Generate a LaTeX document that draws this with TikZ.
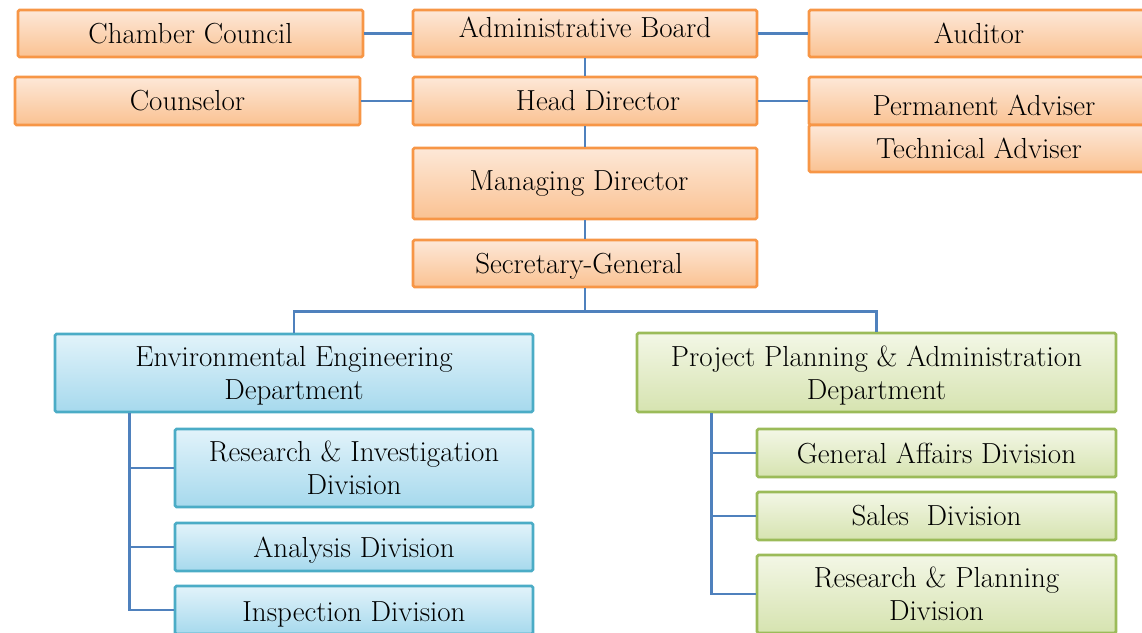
\documentclass[tikz,border=0pt]{standalone}
\usetikzlibrary{calc}
\definecolor{obord}{HTML}{F79646}
\definecolor{otop}{HTML}{FDE8D8}
\definecolor{obot}{HTML}{FAC292}
\definecolor{bbord}{HTML}{4BACC6}
\definecolor{btop}{HTML}{E2F3FA}
\definecolor{bbot}{HTML}{A6D9ED}
\definecolor{gbord}{HTML}{9BBB59}
\definecolor{gtop}{HTML}{F3F7E6}
\definecolor{gbot}{HTML}{D6E3B0}
\definecolor{conn}{HTML}{4F81BD}
% strut to push text down (height) or up (depth)
\newcommand\pushdn[1]{\rule{0pt}{#1}}
\newcommand\pushup[1]{\rule[-#1]{0pt}{#1}}
\tikzset{
  box/.style={rectangle, rounded corners=1.5pt, line width=2.8pt, align=center,
    inner sep=0pt, font=\fontsize{29}{33}\selectfont, text=black, shading=axis, shading angle=0},
  obox/.style={box, draw=obord, top color=otop, bottom color=obot},
  bbox/.style={box, draw=bbord, top color=btop, bottom color=bbot},
  gbox/.style={box, draw=gbord, top color=gtop, bottom color=gbot},
  link/.style={draw=conn, line width=2.8pt}
}
\begin{document}
\begin{tikzpicture}[x=1pt,y=-1pt]
\useasboundingbox (0,0) rectangle (1142,632);
\clip (0,0) rectangle (1142,632);
% top rows
\node[obox, minimum width=345pt, minimum height=47pt] (cc) at (190.5,33.5) {Chamber Council};
\node[obox, minimum width=344pt, minimum height=47pt] (ab) at (585,33.5) {Administrative Board\pushup{12pt}};
\node[obox, minimum width=340pt, minimum height=47pt] (au) at (979,33.5) {Auditor};
\node[obox, minimum width=345pt, minimum height=48pt] (co) at (187.5,101) {Counselor};
\node[obox, minimum width=344pt, minimum height=48pt] (hd) at (585,101) {\hspace*{26pt}Head Director};
\node[obox, minimum width=340pt, minimum height=48pt] (pa) at (979,101) {\pushdn{30pt}\hspace*{10pt}Permanent Adviser};
\node[obox, minimum width=340pt, minimum height=47pt] (ta) at (979,148.5) {Technical Adviser};
\node[obox, minimum width=344pt, minimum height=71pt] (md) at (585,183.5) {\hspace*{-12pt}Managing Director};
\node[obox, minimum width=344pt, minimum height=47pt] (sg) at (585,263.5) {\pushdn{26pt}\hspace*{-12pt}Secretary-General};
% departments
\node[bbox, minimum width=478pt, minimum height=78pt] (eed) at (294,373) {\pushdn{26pt}Environmental Engineering\\Department};
\node[bbox, minimum width=358pt, minimum height=78pt] (rid) at (354,468) {Research \& Investigation\\Division};
\node[bbox, minimum width=358pt, minimum height=48pt] (and) at (354,547) {\pushdn{26pt}Analysis Division};
\node[bbox, minimum width=358pt, minimum height=48pt] (ind) at (354,610) {\pushdn{28pt}Inspection Division};
\node[gbox, minimum width=479pt, minimum height=79pt] (ppd) at (876.5,372.5) {\pushdn{26pt}Project Planning \& Administration\\Department};
\node[gbox, minimum width=359pt, minimum height=48pt] (gad) at (936.5,453) {General Affairs Division};
\node[gbox, minimum width=359pt, minimum height=48pt] (sd) at (936.5,516) {Sales\ \ Division};
\node[gbox, minimum width=359pt, minimum height=78pt] (rpd) at (936.5,594) {Research \& Planning\\Division};
% connectors
\draw[link] (cc.east) -- (ab.west);
\draw[link] (ab.east) -- (au.west);
\draw[link] (co.east) -- (hd.west);
\draw[link] (hd.east) -- (pa.west);
\draw[link] (ab.south) -- (hd.north);
\draw[link] (hd.south) -- (md.north);
\draw[link] (md.south) -- (sg.north);
\coordinate (bus) at ($(sg.south)+(0,23)$);
\draw[link] (sg.south) -- (bus) -| (eed.north);
\draw[link] (bus) -| (ppd.north);
\coordinate (lb) at ($(eed.south west)+(76,0)$);
\draw[link] (lb) |- (rid.west);
\draw[link] (lb) |- (and.west);
\draw[link] (lb) |- (ind.west);
\coordinate (rb) at ($(ppd.south west)+(76,0)$);
\draw[link] (rb) |- (gad.west);
\draw[link] (rb) |- (sd.west);
\draw[link] (rb) |- (rpd.west);
\end{tikzpicture}
\end{document}
